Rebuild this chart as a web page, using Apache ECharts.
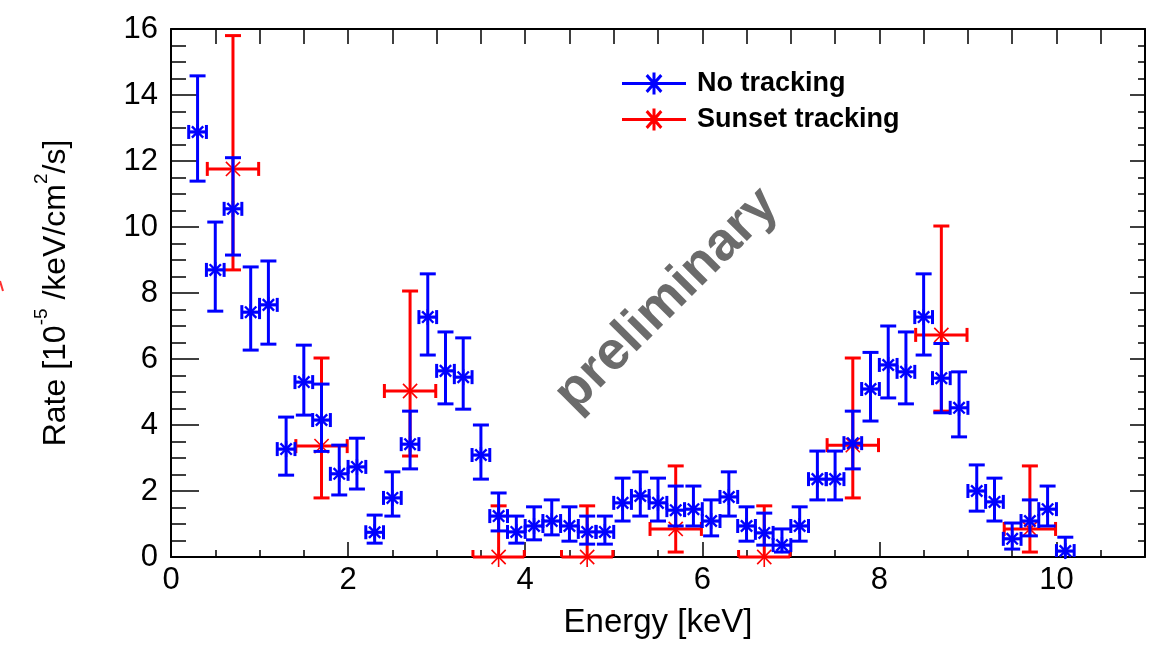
<!DOCTYPE html>
<html><head><meta charset="utf-8">
<script src="https://cdn.jsdelivr.net/npm/echarts@6/dist/echarts.min.js"></script>
<style>html,body{margin:0;padding:0;background:#fff}#c{width:1162px;height:656px}</style>
</head><body><div id="c"></div>
<script>
// ---- data ----
const blueX = [0.3,0.5,0.7,0.9,1.1,1.3,1.5,1.7,1.9,2.1,2.3,2.5,2.7,2.9,3.1,3.3,3.5,3.7,3.9,4.1,4.3,4.5,4.7,4.9,5.1,5.3,5.5,5.7,5.9,6.1,6.3,6.5,6.7,6.9,7.1,7.3,7.5,7.7,7.9,8.1,8.3,8.5,8.7,8.9,9.1,9.3,9.5,9.7,9.9,10.1];
const blueY = [12.88,8.70,10.55,7.42,7.64,3.27,5.30,4.15,2.52,2.73,0.75,1.79,3.42,7.27,5.64,5.45,3.09,1.24,0.76,0.94,1.09,0.94,0.76,0.76,1.64,1.85,1.64,1.42,1.45,1.09,1.82,0.94,0.73,0.36,0.94,2.36,2.36,3.45,5.09,5.82,5.61,7.27,5.42,4.52,2.00,1.67,0.55,1.09,1.45,0.18];
const blueUp = [14.58,10.15,12.10,8.79,8.97,4.24,6.42,5.24,3.39,3.60,1.27,2.58,4.42,8.58,6.82,6.64,4.00,1.94,1.24,1.52,1.73,1.52,1.24,1.24,2.39,2.58,2.39,2.15,2.15,1.73,2.58,1.52,1.33,0.85,1.52,3.21,3.21,4.42,6.20,7.00,6.82,8.58,6.47,5.61,2.79,2.39,1.03,1.73,2.15,0.60];
const blueDown = [11.39,7.45,9.15,6.27,6.45,2.48,4.30,3.20,1.88,2.06,0.42,1.24,2.67,6.12,4.64,4.48,2.36,0.79,0.42,0.52,0.67,0.48,0.39,0.39,1.09,1.24,1.09,0.94,0.94,0.64,1.24,0.48,0.36,0.15,0.48,1.73,1.73,2.67,4.12,4.82,4.64,6.12,4.37,3.64,1.39,1.09,0.24,0.64,0.94,-0.22];
const blueXErr = 0.1;

const redX = [0.7,1.7,2.7,3.7,4.7,5.7,6.7,7.7,8.7,9.7];
const redY = [11.76,3.36,5.03,0,0,0.85,0,3.39,6.73,0.85];
const redUp = [15.8,6.03,8.06,1.55,1.55,2.76,1.55,6.03,10.03,2.76];
const redDown = [8.7,1.79,3.06,0,0,0.15,0,1.79,4.42,0.15];
const redXErr = 0.29;

const seriesNames = ['No tracking', 'Sunset tracking'];
const xTitle = 'Energy [keV]';
const watermark = 'preliminary';

const FONT = "'Liberation Sans', Arial, Helvetica, sans-serif";

function build(xs, ys, up, down, xe) {
  return xs.map((x, i) => [x, ys[i], down[i], up[i], xe]);
}

function makeRender(o) {
  return function (params, api) {
    const x = api.value(0), y = api.value(1), lo = api.value(2), hi = api.value(3), xe = api.value(4);
    const c = api.coord([x, y]);
    const top = api.coord([x, hi])[1];
    const bot = api.coord([x, lo])[1];
    const left = api.coord([x - xe, y])[0];
    const right = api.coord([x + xe, y])[0];
    const base = api.coord([0, 0])[1];
    const color = api.visual('color');
    const kids = [];
    const L = (x1, y1, x2, y2, w) => kids.push({
      type: 'line', shape: { x1, y1, x2, y2 },
      style: { stroke: color, lineWidth: w || o.lw, lineCap: 'butt' }
    });
    const cy = v => Math.min(v, base);
    // vertical error bar
    L(c[0], top, c[0], cy(bot));
    if (hi > y) L(c[0] - o.capW, top, c[0] + o.capW, top);
    if (lo < y && bot <= base + 0.5) L(c[0] - o.capW, bot, c[0] + o.capW, bot);
    // horizontal error bar
    L(left, c[1], right, c[1]);
    L(left, c[1] - o.capH, left, cy(c[1] + o.capH));
    L(right, c[1] - o.capH, right, cy(c[1] + o.capH));
    // asterisk marker
    const r = o.r, d = r * 0.7071;
    L(c[0] - d, c[1] - d, c[0] + d, c[1] + d, o.sw);
    L(c[0] - d, c[1] + d, c[0] + d, c[1] - d, o.sw);
    L(c[0], c[1] - r, c[0], c[1] + r, o.sw);
    L(c[0] - r, c[1], c[0] + r, c[1], o.sw);
    return { type: 'group', children: kids };
  };
}

const legendIcon = 'path://M0 10.5H64V13.5H0Z M30.5 1H33.5V23H30.5Z M23.6 4.8L25.8 2.6L40.4 19.2L38.2 21.4Z M38.2 2.6L40.4 4.8L25.8 21.4L23.6 19.2Z';

const chart = echarts.init(document.getElementById('c'), null, { renderer: 'canvas' });

const axisLineStyle = { color: '#000', width: 2 };
const tickLine = { color: '#000', width: 1.5 };

const option = {
  animation: false,
  backgroundColor: '#fff',
  grid: { left: 171, right: 17, top: 29, bottom: 99, containLabel: false },
  legend: {
    orient: 'vertical', left: 617, top: 65,
    itemWidth: 64, itemHeight: 24, itemGap: 9,
    data: [
      { name: seriesNames[0], icon: legendIcon },
      { name: seriesNames[1], icon: legendIcon }
    ],
    textStyle: { fontFamily: FONT, fontSize: 27, fontWeight: 'bold', color: '#000', padding: [0, 0, 0, 6] }
  },
  xAxis: [
    {
      type: 'value', min: 0, max: 11, interval: 2, position: 'bottom',
      axisLine: { show: true, onZero: false, lineStyle: axisLineStyle },
      axisTick: { show: true, inside: true, length: 15, lineStyle: tickLine },
      minorTick: { show: false },
      splitLine: { show: false },
      axisLabel: {
        fontFamily: FONT, fontSize: 31, color: '#000', margin: 8,
        formatter: v => (v % 2 === 0 ? String(v) : '')
      },
      name: xTitle, nameLocation: 'middle', nameGap: 49,
      nameTextStyle: { fontFamily: FONT, fontSize: 33, color: '#000' }
    },
    {
      type: 'value', min: 0, max: 11, interval: 0.5, position: 'bottom',
      axisLine: { show: false, onZero: false },
      axisTick: { show: true, inside: true, length: 7, lineStyle: tickLine },
      axisLabel: { show: false }, splitLine: { show: false }
    },
    {
      type: 'value', min: 0, max: 11, interval: 0.5, position: 'top',
      axisLine: { show: true, onZero: false, lineStyle: axisLineStyle },
      axisTick: { show: true, inside: true, length: 15, lineStyle: tickLine },
      axisLabel: { show: false }, splitLine: { show: false }
    }
  ],
  yAxis: [
    {
      type: 'value', min: 0, max: 16, interval: 2, position: 'left',
      axisLine: { show: true, onZero: false, lineStyle: axisLineStyle },
      axisTick: { show: true, inside: true, length: 28, lineStyle: tickLine },
      minorTick: { show: true, splitNumber: 4, length: 15, lineStyle: tickLine },
      splitLine: { show: false }, minorSplitLine: { show: false },
      axisLabel: { fontFamily: FONT, fontSize: 31, color: '#000', margin: 13 },
      name: '{n|Rate [10}{s|-5}{n| /keV/cm}{s|2}{n|/s]}',
      nameLocation: 'middle', nameGap: 99,
      nameTextStyle: {
        color: '#000',
        rich: {
          n: { fontFamily: FONT, fontSize: 32, lineHeight: 32, color: '#000' },
          s: { fontFamily: FONT, fontSize: 19, lineHeight: 19, color: '#000', padding: [0, 0, 28, 0] }
        }
      }
    },
    {
      type: 'value', min: 0, max: 16, interval: 2, position: 'right',
      axisLine: { show: true, onZero: false, lineStyle: axisLineStyle },
      axisTick: { show: true, inside: true, length: 15, lineStyle: tickLine },
      minorTick: { show: true, splitNumber: 4, length: 7, lineStyle: tickLine },
      axisLabel: { show: false }, splitLine: { show: false }
    }
  ],
  graphic: [
    {
      type: 'text', x: 667, y: 300, rotation: Math.PI / 4, z: 0,
      style: {
        text: watermark, fill: '#6b6b6b', font: "bold 54px 'Liberation Sans', Arial, sans-serif",
        textAlign: 'center', textVerticalAlign: 'middle'
      }
    },
    {
      type: 'line', shape: { x1: 0, y1: 281, x2: 3, y2: 291 },
      style: { stroke: '#ff3030', lineWidth: 2 }
    }
  ],
  series: [
    {
      name: seriesNames[1], type: 'custom', xAxisIndex: 0, yAxisIndex: 0,
      itemStyle: { color: '#ff0000' }, z: 3,
      renderItem: makeRender({ lw: 3, capW: 8, capH: 7, r: 10, sw: 1.6 }),
      data: build(redX, redY, redUp, redDown, redXErr)
    },
    {
      name: seriesNames[0], type: 'custom', xAxisIndex: 0, yAxisIndex: 0,
      itemStyle: { color: '#0000ff' }, z: 4,
      renderItem: makeRender({ lw: 3, capW: 8, capH: 7, r: 8, sw: 2.4 }),
      data: build(blueX, blueY, blueUp, blueDown, blueXErr)
    }
  ]
};
chart.setOption(option);
</script>
</body></html>
